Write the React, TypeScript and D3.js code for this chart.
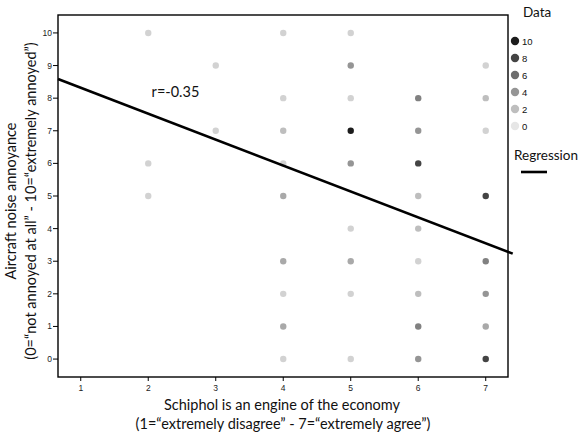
import React from "react";
import * as d3 from "d3";

const xTicks = [1, 2, 3, 4, 5, 6, 7];
const yTicks = [0, 1, 2, 3, 4, 5, 6, 7, 8, 9, 10];
const legendCounts = [10, 8, 6, 4, 2, 0];

const pointX = [2, 2, 2, 3, 3, 4, 4, 4, 4, 4, 4, 4, 4, 4, 5, 5, 5, 5, 5, 5, 5, 5, 5, 6, 6, 6, 6, 6, 6, 6, 6, 6, 7, 7, 7, 7, 7, 7, 7, 7];
const pointY = [10, 6, 5, 9, 7, 10, 8, 7, 6, 5, 3, 2, 1, 0, 10, 9, 8, 7, 6, 4, 3, 2, 0, 8, 7, 6, 5, 4, 3, 2, 1, 0, 9, 8, 7, 5, 3, 2, 1, 0];
const pointCount = [1, 1, 1, 1, 1, 1, 1, 2, 1, 3, 3, 1, 3, 1, 1, 4, 1, 10, 4, 1, 3, 1, 1, 5, 4, 8, 2, 2, 1, 2, 5, 4, 1, 2, 1, 8, 5, 4, 3, 8];

const regIntercept = 9.115;
const regSlope = -0.795;
const rLabel = "r=-0.35";

export default function App() {
  const W = 583, H = 435;
  const left = 58, right = 508, top = 15, bottom = 377;
  const x = d3.scaleLinear().domain([0.663, 7.33]).range([left, right]);
  const y = d3.scaleLinear().domain([-0.55, 10.55]).range([bottom, top]);
  const color = d3.scaleLinear<string>().domain([0, 10]).range(["#e6e6e6", "#1c1c1c"]);
  const xr0 = 0.663, xr1 = 7.4;
  const line = d3.line<number>().x((d) => x(d)).y((d) => y(regIntercept + regSlope * d));
  const titleFont = "Lato, 'Open Sans', sans-serif";
  const tickFont = "'Liberation Sans', Arial, sans-serif";
  return (
    <svg width={W} height={H} style={{ position: "absolute", left: 0, top: 0, background: "#fff" }}>
      {pointX.map((px, i) => (
        <circle key={i} cx={x(px)} cy={y(pointY[i])} r={3.2} fill={color(pointCount[i])} />
      ))}
      <path d={line([xr0, xr1]) || ""} stroke="#000" strokeWidth={2.6} fill="none" />
      <rect x={left} y={top} width={right - left} height={bottom - top} fill="none" stroke="#000" strokeWidth={1.4} />
      {xTicks.map((t) => (
        <g key={t}>
          <line x1={x(t)} x2={x(t)} y1={bottom} y2={bottom + 4} stroke="#000" strokeWidth={1} />
          <text x={x(t)} y={bottom + 14} textAnchor="middle" fontFamily={tickFont} fontSize={8.5} fill="#222">{t}</text>
        </g>
      ))}
      {yTicks.map((t) => (
        <g key={t}>
          <line x1={left - 5} x2={left} y1={y(t)} y2={y(t)} stroke="#000" strokeWidth={1} />
          <text x={left - 6} y={y(t) + 3} textAnchor="end" fontFamily={tickFont} fontSize={8.5} fill="#222">{t}</text>
        </g>
      ))}
      <text x={x(2.05)} y={y(8.2) + 5} fontFamily={titleFont} fontSize={14.5} fill="#111">{rLabel}</text>
      <text x={282} y={410} textAnchor="middle" fontFamily={titleFont} fontSize={14.5} fill="#111">Schiphol is an engine of the economy</text>
      <text x={283} y={429} textAnchor="middle" fontFamily={titleFont} fontSize={14.5} fill="#111">(1=“extremely disagree” - 7=“extremely agree”)</text>
      <g transform="translate(16,201) rotate(-90)">
        <text x={0} y={0} textAnchor="middle" fontFamily={titleFont} fontSize={14.5} fill="#111">Aircraft noise annoyance</text>
        <text x={0} y={19.5} textAnchor="middle" fontFamily={titleFont} fontSize={14.5} fill="#111">(0=“not annoyed at all” - 10=“extremely annoyed”)</text>
      </g>
      <text x={523} y={17} fontFamily={titleFont} fontSize={13.5} fill="#111">Data</text>
      {legendCounts.map((c, i) => (
        <g key={c}>
          <circle cx={515} cy={41 + i * 17} r={4.2} fill={color(c)} />
          <text x={522} y={44.5 + i * 17} fontFamily={tickFont} fontSize={9.5} fill="#111">{c}</text>
        </g>
      ))}
      <text x={514} y={160} fontFamily={titleFont} fontSize={13.5} fill="#111">Regression</text>
      <line x1={521} x2={547} y1={172} y2={172} stroke="#000" strokeWidth={2.6} />
    </svg>
  );
}
